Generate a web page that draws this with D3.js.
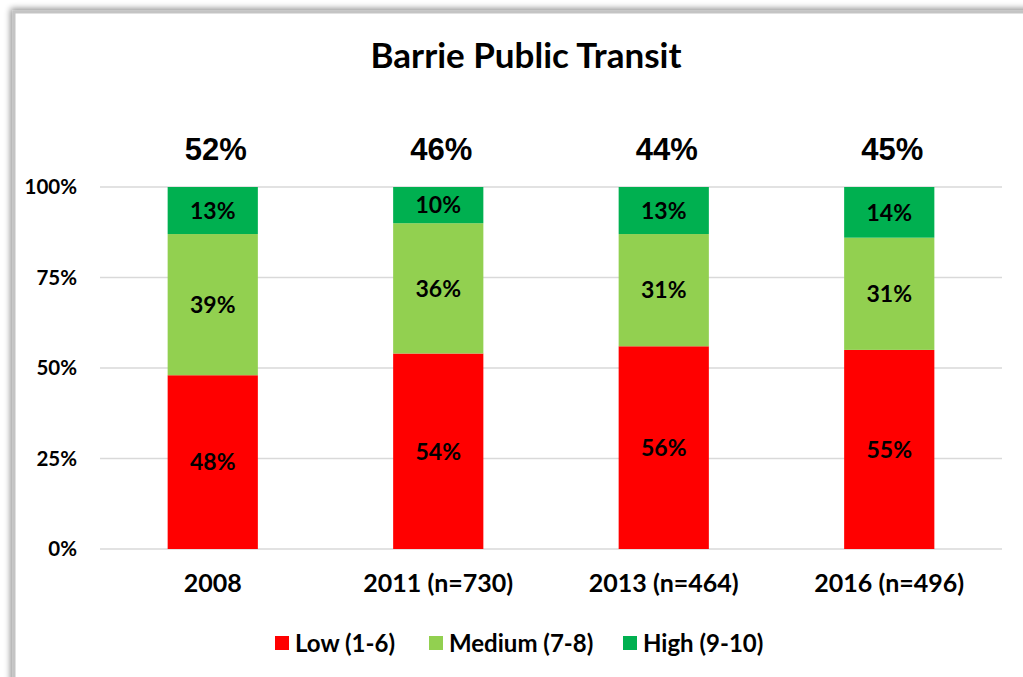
<!DOCTYPE html>
<html>
<head>
<meta charset="utf-8">
<script src="https://cdn.jsdelivr.net/npm/d3@7"></script>
<style>
  body { margin: 0; background: #fff; }
  svg { display: block; }
</style>
</head>
<body>
<svg id="chart" width="1023" height="677"></svg>
<script>
// data
var years = ["2008", "2011 (n=730)", "2013 (n=464)", "2016 (n=496)"];
var low = [48, 54, 56, 55];
var medium = [39, 36, 31, 31];
var high = [13, 10, 13, 14];
var topLabels = ["52%", "46%", "44%", "45%"];
var yTicks = [0, 25, 50, 75, 100];
var seriesNames = ["Low (1-6)", "Medium (7-8)", "High (9-10)"];

var svg = d3.select("#chart"),
    margin = {top: 187, right: 21, bottom: 128, left: 100},
    width = +svg.attr("width") - margin.left - margin.right,
    height = +svg.attr("height") - margin.top - margin.bottom;

var font = "Lato, 'Open Sans', sans-serif";

// frame with shadow
var defs = svg.append("defs");
var f = defs.append("filter").attr("id", "shadow")
    .attr("x", "-5%").attr("y", "-5%").attr("width", "110%").attr("height", "110%");
f.append("feGaussianBlur").attr("in", "SourceAlpha").attr("stdDeviation", 3);
f.append("feOffset").attr("dx", -2).attr("dy", -2).attr("result", "b");
f.append("feComponentTransfer").append("feFuncA").attr("type", "linear").attr("slope", 0.45);
var fm = f.append("feMerge");
fm.append("feMergeNode");
fm.append("feMergeNode").attr("in", "SourceGraphic");

svg.append("rect")
    .attr("x", 14).attr("y", 12)
    .attr("width", 1040).attr("height", 700)
    .attr("fill", "#fff")
    .attr("stroke", "#c4c4c4")
    .attr("stroke-width", 3)
    .attr("filter", "url(#shadow)");

var g = svg.append("g").attr("transform", "translate(" + margin.left + "," + margin.top + ")");

var data = years.map(function(d, i) {
  return {year: d, low: low[i], medium: medium[i], high: high[i]};
});
var keys = ["low", "medium", "high"];

var x = d3.scaleBand()
    .domain(years)
    .range([0, width])
    .paddingInner(0.6)
    .paddingOuter(0.3);

var y = d3.scaleLinear()
    .domain([0, 100])
    .range([height, 0]);

var z = d3.scaleOrdinal()
    .domain(keys)
    .range(["#ff0000", "#92d050", "#00b050"]);

// gridlines
g.append("g")
  .selectAll("line")
  .data(yTicks)
  .enter().append("line")
    .attr("x1", 0).attr("x2", width)
    .attr("y1", function(d) { return y(d); })
    .attr("y2", function(d) { return y(d); })
    .attr("stroke", "#d9d9d9")
    .attr("stroke-width", 1.5);

// y axis labels
g.append("g")
  .selectAll("text")
  .data(yTicks)
  .enter().append("text")
    .attr("x", -23)
    .attr("y", function(d) { return y(d); })
    .attr("dy", "0.35em")
    .attr("text-anchor", "end")
    .attr("font-family", font)
    .attr("font-weight", "bold")
    .attr("font-size", 20.5)
    .text(function(d) { return d + "%"; });

var stacked = d3.stack().keys(keys)(data);

var layer = g.append("g")
  .selectAll("g")
  .data(stacked)
  .enter().append("g")
    .attr("fill", function(d) { return z(d.key); });

layer.selectAll("rect")
  .data(function(d) { return d; })
  .enter().append("rect")
    .attr("x", function(d) { return x(d.data.year); })
    .attr("y", function(d) { return y(d[1]); })
    .attr("height", function(d) { return y(d[0]) - y(d[1]); })
    .attr("width", x.bandwidth());

// segment labels
layer.selectAll("text")
  .data(function(d) { return d; })
  .enter().append("text")
    .attr("x", function(d) { return x(d.data.year) + x.bandwidth() / 2; })
    .attr("y", function(d) { return (y(d[0]) + y(d[1])) / 2; })
    .attr("dy", "0.36em")
    .attr("text-anchor", "middle")
    .attr("fill", "#000")
    .attr("font-family", font)
    .attr("font-weight", "bold")
    .attr("font-size", 23)
    .text(function(d) { return (d[1] - d[0]) + "%"; });

// totals above bars
g.append("g")
  .selectAll("text")
  .data(years)
  .enter().append("text")
    .attr("x", function(d) { return x(d) + x.bandwidth() / 2 + 3; })
    .attr("y", -27)
    .attr("text-anchor", "middle")
    .attr("font-family", "'Liberation Sans', Arial, sans-serif")
    .attr("font-weight", "bold")
    .attr("font-size", 31)
    .text(function(d, i) { return topLabels[i]; });

// x axis labels
g.append("g")
  .selectAll("text")
  .data(years)
  .enter().append("text")
    .attr("x", function(d) { return x(d) + x.bandwidth() / 2; })
    .attr("y", height + 43)
    .attr("text-anchor", "middle")
    .attr("font-family", font)
    .attr("font-weight", "bold")
    .attr("font-size", 25)
    .text(function(d) { return d; });

// title
svg.append("text")
    .attr("x", 526)
    .attr("y", 68)
    .attr("text-anchor", "middle")
    .attr("font-family", font)
    .attr("font-weight", "bold")
    .attr("font-size", 35)
    .text("Barrie Public Transit");

// legend
var legendX = [275, 429, 623];
var legend = svg.append("g")
  .selectAll("g")
  .data(keys)
  .enter().append("g")
    .attr("transform", function(d, i) { return "translate(" + legendX[i] + ",636)"; });

legend.append("rect")
    .attr("width", 14)
    .attr("height", 14)
    .attr("fill", z);

legend.append("text")
    .attr("x", 20)
    .attr("y", 7)
    .attr("dy", "0.36em")
    .attr("font-family", font)
    .attr("font-weight", "bold")
    .attr("font-size", 24)
    .text(function(d, i) { return seriesNames[i]; });
</script>
</body>
</html>
